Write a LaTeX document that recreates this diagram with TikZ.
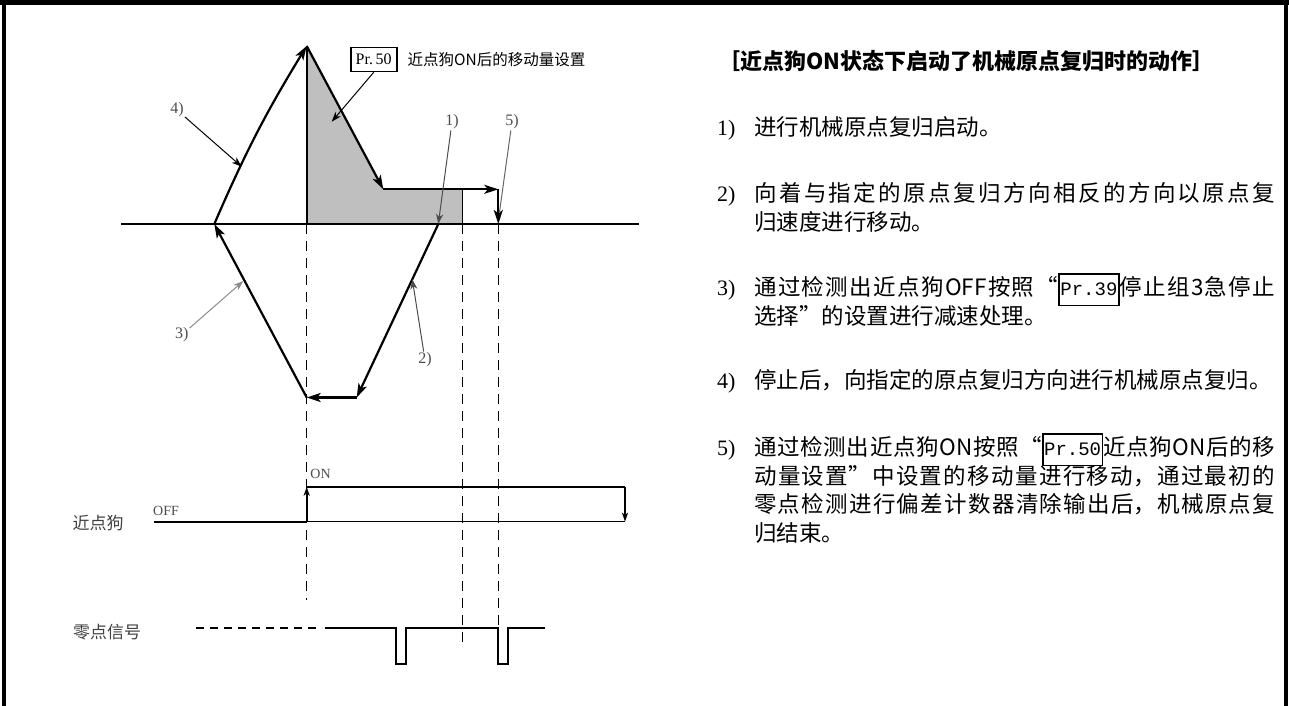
\documentclass[tikz,border=0pt]{standalone}
\usepackage{fontspec}
\setmainfont{Liberation Serif}
\newfontfamily\cjk{Noto Sans CJK SC}
\newfontfamily\mono{Liberation Mono}
\usepackage{tikz}
\usetikzlibrary{arrows.meta,positioning}
\XeTeXlinebreaklocale "zh"
\XeTeXlinebreakskip=0pt plus 4pt minus 0.3pt
\newcommand\prbox[1]{\smash{\setlength\fboxsep{0.5pt}\setlength\fboxrule{1.6pt}\fbox{\mono\fontsize{19}{28.5}\selectfont\strut #1}}}

\begin{document}
\begin{tikzpicture}[x=1pt, y=-1pt,
  motion/.style={line width=2.2pt, -{Stealth[length=14pt,width=9pt,inset=3.5pt]}},
  trace/.style={line width=2.2pt},
  dogarrow/.style={line width=2pt, -{Stealth[length=9pt,width=6pt,inset=2.5pt]}},
  leader/.style={line width=1pt, -{Stealth[length=10pt,width=7pt,inset=3pt]}},
  guide/.style={line width=1.2pt, dash pattern=on 10pt off 7pt},
  num/.style={text=black!70, font=\fontsize{16}{16}\selectfont, inner sep=1pt},
  sigtag/.style={text=black!75, font={\fontsize{17}{17}\selectfont\cjk}, inner sep=0pt},
  itemno/.style={anchor=base west, inner sep=0pt, font=\fontsize{22}{28.5}\selectfont},
  item/.style={anchor=base west, inner sep=0pt, text width=521pt, align=justify,
    font={\fontsize{22.5}{28.5}\selectfont\cjk}}
]
\useasboundingbox (0,0) rectangle (1289,706);

% frame
\draw[line width=4pt] (4,0) -- (4,706);
\draw[line width=4pt] (1286,0) -- (1286,706);
\draw[line width=5pt] (0,2.5) -- (1289,2.5);

% speed profile
\coordinate (ax0) at (121,224);
\coordinate (ax1) at (639,224);
\coordinate (peak) at (306.7,46);
\coordinate (pk0) at (306.7,224);
\coordinate (go) at (214.3,224);
\coordinate (knee) at (383.3,189.3);
\coordinate (clr) at (462.3,189.3);
\coordinate (clrb) at (462.3,224);
\coordinate (creep) at (498.3,189.3);
\coordinate (stop) at (498.3,224);
\coordinate (home) at (438.3,224);
\coordinate (low) at (356.7,397.5);
\coordinate (lowl) at (306.7,397.5);

\fill[black!25] (peak) -- (knee) -- (clr) -- (clrb) -- (pk0) -- cycle;
\draw[line width=1.2pt] (ax0) -- (ax1);

% guide lines
\coordinate (g1) at (306.7,600);
\coordinate (g2) at (462.3,642);
\coordinate (g3) at (498.3,628);
\draw[guide] (pk0) -- (g1);
\draw[guide] (clrb) -- (g2);
\draw[guide] (stop) -- (g3);

\draw[motion] (go) to[bend left=4] (peak);
\draw[trace] (peak) -- (pk0);
\draw[motion] (peak) -- (knee);
\draw[motion] (knee) -- (creep);
\draw[motion] (creep) -- (stop);
\draw[line width=1.4pt] (clr) -- (clrb);
\draw[motion] (home) -- (low);
\draw[motion] (low) -- (lowl);
\draw[motion] (lowl) -- (go);

% step labels
\node[num] (n4) at (177,110) {4)};
\node[num] (n1) at (452,122) {1)};
\node[num] (n5) at (512,122) {5)};
\node[num] (n3) at (181.7,335) {3)};
\node[num] (n2) at (425,360) {2)};
\coordinate (t4) at (241.7,166.7);
\coordinate (t5) at (499.5,212);
\coordinate (t3) at (243.3,281);
\coordinate (t2) at (412.3,279.3);
\draw[leader, black] (n4) -- (t4);
\draw[leader, black!70] (n1) -- (home);
\draw[line width=1pt, black!60] (n5) -- (t5);
\draw[leader, black!45] (n3) -- (t3);
\draw[leader, black!70] (n2) -- (t2);

\node[draw, line width=1.6pt, minimum width=46pt, minimum height=24pt, inner sep=0pt,
  font=\fontsize{16}{16}\selectfont] (pr50) at (373.7,59.5) {Pr.\,50};
\node[right=10pt of pr50, inner sep=0pt, font={\fontsize{15.5}{15.5}\selectfont\cjk}] (pr50txt) {近点狗ON后的移动量设置};
\coordinate (t50) at (331.7,121.7);
\draw[leader, black] (pr50.south) -- (t50);

% near-point dog signal
\node[sigtag] (dog) at (98,523) {近点狗};
\node[num, font=\fontsize{14}{14}\selectfont] (offtag) at (166,511) {OFF};
\node[num, font=\fontsize{14}{14}\selectfont] (ontag) at (320.5,474) {ON};
\coordinate (d0) at (154,521.7);
\coordinate (d1) at (306.7,521.7);
\coordinate (d2) at (306.7,486.7);
\coordinate (d3) at (625,486.7);
\coordinate (d4) at (625,521.7);
\draw[trace] (d0) -- (d1);
\draw[dogarrow] (d1) -- (d2);
\draw[trace] (d2) -- (d3);
\draw[dogarrow] (d3) -- (d4);
\draw[line width=1.2pt] (d1) -- (d4);

% zero signal
\node[sigtag] (zero) at (107,632) {零点信号};
\coordinate (z0) at (196,628.3);
\coordinate (z1) at (322,628.3);
\coordinate (z2) at (325,628.3);
\draw[trace, dash pattern=on 8pt off 6pt] (z0) -- (z1);
\draw[trace] (z2) -- (396,628.3) -- (396,664) -- (406,664) -- (406,628.3)
  -- (498.3,628.3) -- (498.3,664) -- (508.2,664) -- (508.2,628.3) -- (544.6,628.3);

% description
\node[anchor=base west, inner sep=0pt, font={\fontsize{22}{28.5}\selectfont\cjk\bfseries}] (title) at (718,70)
  {［近点狗ON状态下启动了机械原点复归时的动作］};
\node[itemno] (no1) at (717,135.5) {1)};
\node[item] (it1) at (754,135.5) {进行机械原点复归启动。};
\node[itemno] (no2) at (717,201.5) {2)};
\node[item] (it2) at (754,201.5) {向着与指定的原点复归方向相反的方向以原点复\linebreak 归速度进行移动。};
\node[itemno] (no3) at (717,295.5) {3)};
\node[item] (it3) at (754,295.5) {通过检测出近点狗OFF按照“\prbox{Pr.39}停止组3急停止\linebreak 选择”的设置进行减速处理。};
\node[itemno] (no4) at (717,388.5) {4)};
\node[item] (it4) at (754,388.5) {停止后，向指定的原点复归方向进行机械原点复归。};
\node[itemno] (no5) at (717,455.5) {5)};
\node[item] (it5) at (754,455.5) {通过检测出近点狗ON按照“\prbox{Pr.50}近点狗ON后的移\linebreak 动量设置”中设置的移动量进行移动，通过最初的\linebreak 零点检测进行偏差计数器清除输出后，机械原点复\linebreak 归结束。};
\end{tikzpicture}
\end{document}
